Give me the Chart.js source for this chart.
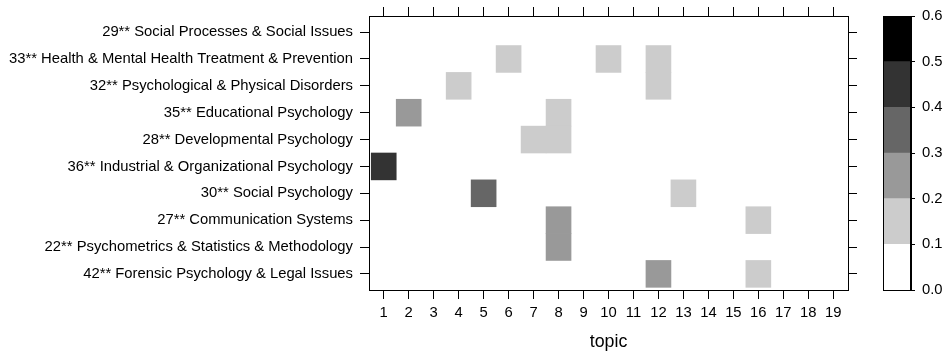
<!DOCTYPE html>
<html>
<head>
<meta charset="utf-8">
<script src="https://cdn.jsdelivr.net/npm/chart.js@4/dist/chart.umd.min.js"></script>
<style>
  html, body { margin: 0; padding: 0; background: #fff; }
  #wrap { position: relative; width: 944px; height: 352px; }
  #heat { position: absolute; left: 0; top: 0; }
  #key { position: absolute; left: 860px; top: 0; }
</style>
</head>
<body>
<div id="wrap">
  <canvas id="heat" width="944" height="352"></canvas>
  <canvas id="key" width="84" height="352"></canvas>
</div>
<script>
// Journal categories, top row first
const categories = [
  "29** Social Processes & Social Issues",
  "33** Health & Mental Health Treatment & Prevention",
  "32** Psychological & Physical Disorders",
  "35** Educational Psychology",
  "28** Developmental Psychology",
  "36** Industrial & Organizational Psychology",
  "30** Social Psychology",
  "27** Communication Systems",
  "22** Psychometrics & Statistics & Methodology",
  "42** Forensic Psychology & Legal Issues"
];

// Topic numbers along the x axis
const topics = [1, 2, 3, 4, 5, 6, 7, 8, 9, 10, 11, 12, 13, 14, 15, 16, 17, 18, 19];

// Share of each category per topic (one row per category, one entry per topic)
const shares = [
  [0, 0, 0, 0, 0, 0, 0, 0, 0, 0, 0, 0, 0, 0, 0, 0, 0, 0, 0],
  [0, 0, 0, 0, 0, 0.13, 0, 0, 0, 0.12, 0, 0.15, 0, 0, 0, 0, 0, 0, 0],
  [0, 0, 0, 0.14, 0, 0, 0, 0, 0, 0, 0, 0.16, 0, 0, 0, 0, 0, 0, 0],
  [0, 0.26, 0, 0, 0, 0, 0, 0.13, 0, 0, 0, 0, 0, 0, 0, 0, 0, 0, 0],
  [0, 0, 0, 0, 0, 0, 0.12, 0.17, 0, 0, 0, 0, 0, 0, 0, 0, 0, 0, 0],
  [0.47, 0, 0, 0, 0, 0, 0, 0, 0, 0, 0, 0, 0, 0, 0, 0, 0, 0, 0],
  [0, 0, 0, 0, 0.36, 0, 0, 0, 0, 0, 0, 0, 0.11, 0, 0, 0, 0, 0, 0],
  [0, 0, 0, 0, 0, 0, 0, 0.23, 0, 0, 0, 0, 0, 0, 0, 0.14, 0, 0, 0],
  [0, 0, 0, 0, 0, 0, 0, 0.25, 0, 0, 0, 0, 0, 0, 0, 0, 0, 0, 0],
  [0, 0, 0, 0, 0, 0, 0, 0, 0, 0, 0, 0.22, 0, 0, 0, 0.12, 0, 0, 0]
];

// Colour key: level boundaries and the grey used for each band
const levelBreaks = [0, 0.1, 0.2, 0.3, 0.4, 0.5, 0.6];
const levelColors = ["#FFFFFF", "#CCCCCC", "#999999", "#666666", "#333333", "#000000"];

Chart.defaults.font.family = "'Liberation Sans', Arial, Helvetica, sans-serif";
Chart.defaults.color = "#000";

function levelColor(v) {
  for (let i = levelColors.length - 1; i >= 0; i--) {
    if (v >= levelBreaks[i]) return levelColors[i];
  }
  return levelColors[0];
}

// One floating bar per non-empty cell: spans topic-0.5 .. topic+0.5 in its row
const cells = [];
shares.forEach((row, r) => {
  row.forEach((v, t) => {
    if (v > 0) {
      cells.push({ x: [topics[t] - 0.5, topics[t] + 0.5], y: r + 1, v: v });
    }
  });
});

const rowTicks = categories.map((_, i) => ({ value: i + 1 }));
const colTicks = topics.map(t => ({ value: t }));

const tickFont = { size: 14.8 };
const boxBorder = { display: true, color: "#000", width: 1 };
const outerGrid = { drawOnChartArea: false, drawTicks: true, tickLength: 9, color: "#000", lineWidth: 1, offset: false };

const xRange = { min: 0.41, max: 19.59, offset: false };
const yRange = { min: 0.4, max: 10.6, offset: false };

new Chart(document.getElementById("heat"), {
  type: "bar",
  data: {
    datasets: [{
      data: cells,
      backgroundColor: ctx => levelColor(ctx.raw ? ctx.raw.v : 0),
      borderWidth: 0,
      barPercentage: 1,
      categoryPercentage: 1
    }]
  },
  options: {
    indexAxis: "y",
    responsive: false,
    animation: false,
    devicePixelRatio: 1,
    layout: { padding: 0 },
    plugins: { legend: { display: false }, tooltip: { enabled: false } },
    scales: {
      x: {
        type: "linear", position: "bottom", ...xRange,
        afterBuildTicks: s => { s.ticks = colTicks.map(t => ({ ...t })); },
        afterFit: s => { s.height = 62; },
        grid: outerGrid,
        border: boxBorder,
        ticks: { font: tickFont, padding: 5, maxRotation: 0, autoSkip: false, callback: v => String(v) },
        title: { display: true, text: "topic", font: { size: 17.8, lineHeight: 1 }, padding: { top: 0, bottom: 1 } }
      },
      x2: {
        type: "linear", position: "top", ...xRange,
        afterBuildTicks: s => { s.ticks = colTicks.map(t => ({ ...t })); },
        afterFit: s => { s.height = 16; },
        grid: outerGrid,
        border: boxBorder,
        ticks: { display: false }
      },
      y: {
        type: "linear", position: "left", reverse: true, ...yRange,
        afterBuildTicks: s => { s.ticks = rowTicks.map(t => ({ ...t })); },
        afterFit: s => { s.width = 369; },
        grid: outerGrid,
        border: boxBorder,
        ticks: { font: tickFont, padding: 7, autoSkip: false, callback: v => categories[Math.round(v) - 1] }
      },
      y2: {
        type: "linear", position: "right", reverse: true, ...yRange,
        afterBuildTicks: s => { s.ticks = rowTicks.map(t => ({ ...t })); },
        afterFit: s => { s.width = 96; },
        grid: outerGrid,
        border: boxBorder,
        ticks: { display: false }
      }
    }
  }
});

// Colour key drawn as stacked floating bars on a 0..0.6 scale
const outline = {
  id: "outline",
  afterDatasetsDraw(chart) {
    const a = chart.chartArea, c = chart.ctx;
    c.save();
    c.strokeStyle = "#000";
    c.lineWidth = 1;
    c.strokeRect(Math.round(a.left) + 0.5, Math.round(a.top) + 0.5,
                 Math.round(a.right - a.left) - 1, Math.round(a.bottom - a.top));
    c.restore();
  }
};

new Chart(document.getElementById("key"), {
  type: "bar",
  data: {
    labels: ["key"],
    datasets: levelColors.map((col, i) => ({
      data: [[levelBreaks[i], levelBreaks[i + 1]]],
      backgroundColor: col,
      borderWidth: 0,
      grouped: false,
      barPercentage: 1,
      categoryPercentage: 1
    }))
  },
  options: {
    responsive: false,
    animation: false,
    devicePixelRatio: 1,
    layout: { padding: { left: 23, top: 16, bottom: 62, right: 0 } },
    plugins: { legend: { display: false }, tooltip: { enabled: false } },
    scales: {
      x: { type: "category", display: false },
      y: {
        type: "linear", position: "right", offset: false,
        min: levelBreaks[0], max: levelBreaks[levelBreaks.length - 1],
        afterBuildTicks: s => { s.ticks = levelBreaks.map(v => ({ value: v })); },
        afterFit: s => { s.width = 33; },
        grid: { drawOnChartArea: false, drawTicks: true, tickLength: 4, color: "#000" },
        border: { display: true, color: "#000" },
        ticks: { font: tickFont, padding: 7, callback: v => Number(v).toFixed(1) }
      }
    }
  },
  plugins: [outline]
});
</script>
</body>
</html>
